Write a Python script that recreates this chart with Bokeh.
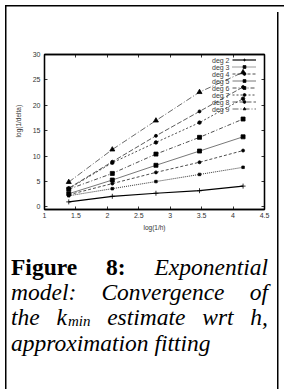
from bokeh.plotting import figure
from bokeh.models import Range1d, LinearAxis, FixedTicker, Legend, LegendItem, Label, Div
from bokeh.layouts import column
from bokeh.core.properties import value
from bokeh.embed import file_html
from bokeh.resources import INLINE

# ---------------- data ----------------
log_inv_h = [1.386, 2.079, 2.773, 3.466, 4.159]
deg2 = [1.0, 2.1, 2.7, 3.2, 4.1]
deg3 = [2.2, 3.6, 5.0, 6.4, 7.8]
deg4 = [2.4, 4.6, 6.8, 8.8, 11.1]
deg5 = [2.6, 5.3, 8.2, 11.0, 13.8]
deg6 = [3.5, 6.6, 10.4, 13.7, 17.3]
deg7 = [3.6, 8.7, 12.7, 16.6, 21.3]
deg8 = [3.7, 8.9, 14.0, 18.8, 23.6]
deg9 = [4.9, 11.3, 17.0, 22.6, 26.5]
series_names = ["deg 2", "deg 3", "deg 4", "deg 5", "deg 6", "deg 7", "deg 8", "deg 9"]
series_values = [deg2, deg3, deg4, deg5, deg6, deg7, deg8, deg9]
x_ticks = [1, 1.5, 2, 2.5, 3, 3.5, 4, 4.5]
x_tick_labels = ["1", "1.5", "2", "2.5", "3", "3.5", "4", "4.5"]
y_ticks = [0, 5, 10, 15, 20, 25, 30]
y_tick_labels = ["0", "5", "10", "15", "20", "25", "30"]

# ---------------- layout ----------------
W, H = 291, 240          # chart figure (page origin at 0,0)
FL, FR, FT, FB = 44, 264, 54, 209   # frame edges in px


def scr(px, py):
    """page pixel -> screen units relative to frame (y up from frame bottom)"""
    return px - FL, FB - py


p = figure(width=W, height=H, output_backend="svg", toolbar_location=None,
           x_range=Range1d(1, 4.5), y_range=Range1d(-0.5, 30),
           min_border_left=FL, min_border_right=W - FR,
           min_border_top=FT, min_border_bottom=H - FB,
           x_axis_location=None, y_axis_location=None)
p.xgrid.visible = False
p.ygrid.visible = False
p.outline_line_color = "black"
p.outline_line_width = 1.3
p.background_fill_color = "white"
p.border_fill_alpha = 0

TICK_FONT = "Liberation Sans"


def make_axis(ticks, labels, show_labels, **kw):
    return LinearAxis(ticker=FixedTicker(ticks=ticks),
                      major_label_overrides={t: l for t, l in zip(ticks, labels)},
                      major_tick_in=3, major_tick_out=0, minor_tick_line_color=None,
                      axis_line_color="black", axis_line_width=1.3,
                      major_tick_line_color="black", major_tick_line_width=0.8,
                      major_label_text_font=TICK_FONT,
                      major_label_text_font_size="7px",
                      major_label_text_color="#333333" if show_labels else None,
                      axis_label_text_font=TICK_FONT,
                      axis_label_text_font_size="6.5px",
                      axis_label_text_font_style="normal",
                      axis_label_text_color="#333333", **kw)


xb = make_axis(x_ticks, x_tick_labels, True, axis_label="log(1/h)",
               major_label_standoff=3, axis_label_standoff=3)
# leading no-break spaces lift the rotated label a little above the axis centre,
# as in the reference
yl = make_axis(y_ticks, y_tick_labels, True,
               axis_label="\u00a0" * 12 + "log(1/delta)",
               major_label_standoff=4, axis_label_standoff=8)
xt = make_axis(x_ticks, x_tick_labels, False, major_label_standoff=0)
yr = make_axis(y_ticks, y_tick_labels, False, major_label_standoff=0)
p.add_layout(xb, "below")
p.add_layout(yl, "left")
p.add_layout(xt, "above")
p.add_layout(yr, "right")

styles = [
    dict(dash="solid", color="black", lw=1.2, marker="cross", size=5),
    dict(dash="1 1", color="#222222", lw=0.9, marker="square", size=2.5),
    dict(dash="3 2", color="#222222", lw=0.8, marker="circle", size=3),
    dict(dash="solid", color="#555555", lw=0.8, marker="square", size=4),
    dict(dash="4 2 1 2", color="#222222", lw=0.8, marker="square", size=4),
    dict(dash="2 2", color="#222222", lw=0.8, marker="circle", size=3.5),
    dict(dash="5 2", color="#333333", lw=0.8, marker="circle", size=3),
    dict(dash="6 2 1 2", color="#444444", lw=0.8, marker="triangle", size=5),
]

items = []
for name, vals, st in zip(series_names, series_values, styles):
    r1 = p.line(log_inv_h, vals, line_color=st["color"], line_width=st["lw"],
                line_dash=st["dash"])
    r2 = p.scatter(log_inv_h, vals, marker=st["marker"], size=st["size"],
                   line_color="black", fill_color="black", line_width=0.8)
    items.append(LegendItem(label=value(" "), renderers=[r1, r2]))

# legend sample column (text drawn separately, left of the samples)
ROW = 7
row0 = 59.5
lx, ly = scr(232, row0 - ROW / 2 + ROW * len(series_names))
legend = Legend(items=items, location=(lx, ly), padding=0, margin=0, spacing=0,
                glyph_height=ROW, glyph_width=24, label_height=ROW, label_standoff=0,
                label_text_font_size="1px", border_line_color=None,
                background_fill_alpha=0)
p.add_layout(legend)
for i, name in enumerate(series_names):
    sx, sy = scr(229, row0 + ROW * i)
    p.add_layout(Label(x=sx, y=sy, x_units="screen", y_units="screen", text=name,
                       text_align="right", text_baseline="middle",
                       text_font=TICK_FONT, text_font_size="7px",
                       text_color="#3a3a3a"))

# ---------------- caption ----------------
line_css = "display:block;width:257px;text-align:justify;text-align-last:justify;"
caption_html = (
    "<div style=\"display:block;width:257px;font-family:'Liberation Serif',serif;"
    "font-size:23.5px;line-height:25px;color:#000;padding:10px 0 0 6px;\">"
    f"<div style=\"{line_css}\"><b>Figure 8:</b> <i>Exponential</i></div>"
    f"<div style=\"{line_css}\"><i>model: Convergence of</i></div>"
    f"<div style=\"{line_css}\"><i>the k<span style=\"font-size:15px;line-height:15px;"
    "position:relative;top:1px;margin-left:1px;\">min</span>"
    " estimate wrt h,</i></div>"
    "<div style=\"display:block;width:257px;text-align:left;margin-top:1px;\">"
    "<i>approximation fitting</i></div>"
    "</div>"
)
cap = Div(text=caption_html, width=W, height=148)

# page rules (drawn as the layout's background, behind the transparent figure border)
page = column(p, cap, styles={
    "background-image": "linear-gradient(#000,#000), linear-gradient(#000,#000), linear-gradient(#000,#000)",
    "background-size": "279px 1.5px, 1.5px 384px, 1.5px 377px",
    "background-position": "5px 5px, 5px 5px, 277px 12px",
    "background-repeat": "no-repeat",
})

open("out.html", "w").write(file_html(page, INLINE))
